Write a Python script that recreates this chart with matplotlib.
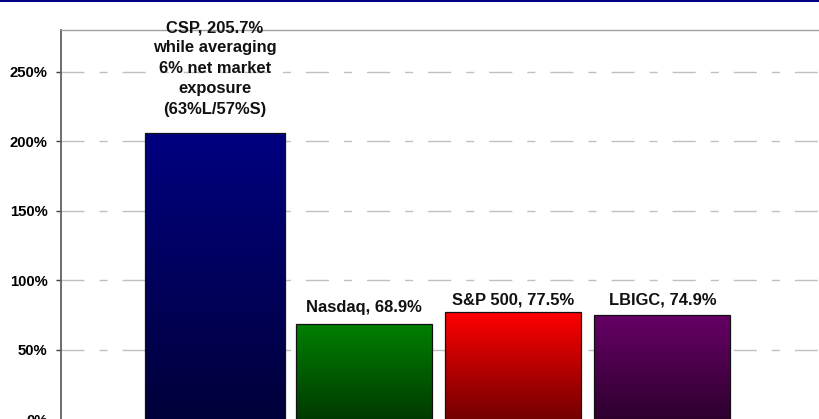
import numpy as np
import matplotlib
matplotlib.use("Agg")
import matplotlib.pyplot as plt
from matplotlib.patches import Rectangle
from matplotlib.colors import LinearSegmentedColormap, to_rgb

plt.rcParams['font.family'] = ['Liberation Sans', 'DejaVu Sans']
plt.rcParams['lines.scale_dashes'] = False

# --- data ---
names = ["CSP", "Nasdaq", "S&P 500", "LBIGC"]
values = [205.7, 68.9, 77.5, 74.9]
labels = ["CSP, 205.7%\nwhile averaging\n6% net market\nexposure\n(63%L/57%S)",
          "Nasdaq, 68.9%", "S&P 500, 77.5%", "LBIGC, 74.9%"]
yticks = [0, 50, 100, 150, 200, 250]

# --- styling ---
top_colors = ["#000080", "#008000", "#ff0000", "#660066"]
widths = [0.94, 0.91, 0.91, 0.91]
label_pad = [14.2, 8.4, 5.3, 7.9]   # points above bar top

fig = plt.figure(figsize=(8.19, 4.19), dpi=100)
ax = fig.add_axes([61/819, -0.5/419, 0.94, 389.5/419])

x = np.arange(len(values))
bars = ax.bar(x, values, width=widths, facecolor='none', edgecolor='#111111',
              linewidth=0.9, zorder=3)

# gradient fill: base colour at top, darker at bottom
grad = np.linspace(0, 1, 256).reshape(-1, 1)
for bar, c in zip(bars, top_colors):
    base = np.array(to_rgb(c))
    cmap = LinearSegmentedColormap.from_list("g", [base * 0.45, base])
    x0, y0 = bar.get_x(), bar.get_y()
    w, h = bar.get_width(), bar.get_height()
    im = ax.imshow(grad, cmap=cmap, extent=[x0, x0 + w, y0, y0 + h],
                   origin='lower', aspect='auto', zorder=2)
    im.set_clip_path(bar)

for xi, v, lab, pad in zip(x, values, labels, label_pad):
    ax.annotate(lab, xy=(xi, v), xytext=(0, pad), textcoords='offset points',
                ha='center', va='baseline', fontsize=11.9, fontweight='bold',
                color='#111111', linespacing=1.45, zorder=5)

ax.set_xlim(-1.03, 4.13)
ax.set_ylim(0, 280)
ax.set_yticks(yticks)
ax.set_yticklabels([f"{t}%" for t in yticks], fontsize=10.7, fontweight='bold')
ax.set_xticks([])

ax.yaxis.grid(True, color='#c0c0c0', linewidth=1.0,
              linestyle=(0, (16.6, 10.8, 5.8, 10.8)), zorder=0)
ax.set_axisbelow(True)
ax.tick_params(axis='y', direction='out', length=3.6, width=1.0,
               color='#404040', pad=6)

ax.spines['left'].set_color('#606060')
ax.spines['left'].set_linewidth(1.3)
ax.spines['top'].set_color('#a0a0a0')
ax.spines['top'].set_linewidth(1.0)
ax.spines['right'].set_visible(False)
ax.spines['bottom'].set_visible(False)

# navy rule along the top edge of the slide
fig.patches.append(Rectangle((0, 1 - 2/419), 1, 2/419, transform=fig.transFigure,
                             facecolor='#000080', edgecolor='none'))

fig.savefig("out.png", dpi=100)
